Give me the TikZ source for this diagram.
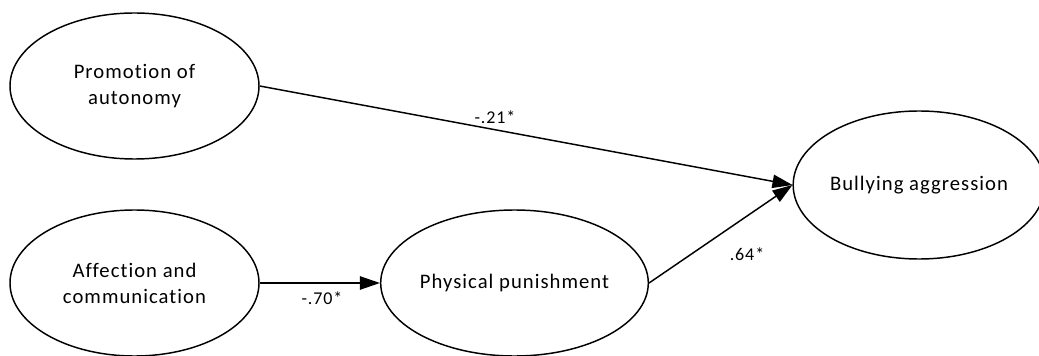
\documentclass[tikz,border=0pt]{standalone}
\usepackage{fontspec}
\setmainfont{Carlito}[LetterSpace=5,RawFeature={-liga;-clig;-dlig}]
\usetikzlibrary{shapes.geometric,arrows.meta}
\tikzset{
  latent/.style={ellipse, draw, line width=1.1pt, inner sep=0pt, align=center,
    minimum width=186.75pt, minimum height=109.5pt,
    font=\fontsize{15.5}{19.5}\selectfont},
  path/.style={line width=1.1pt, -{Triangle[length=15pt,width=10pt]}},
  coef/.style={font=\fontsize{13.5}{15}\selectfont, inner sep=0pt}
}
\begin{document}
\begin{tikzpicture}[x=0.75pt,y=-0.75pt]
\useasboundingbox (0,0) rectangle (1039,356);
\node[latent] (pa) at (134.5,86) {Promotion of\\autonomy};
\node[latent] (ac) at (134.5,283) {Affection and\\communication};
\node[latent] (pp) at (514.5,283) {Physical punishment};
\node[latent, minimum height=111pt] (ba) at (919,185) {Bullying aggression};
\draw[path] (pa.east) -- (ba.west);
\draw[path] (pp.east) -- (ba.west);
\draw[path] (ac.east) -- (pp.west);
\node[coef] (l1) at (495,117) {-.21*};
\node[coef] (l2) at (322,298) {-.70*};
\node[coef] (l3) at (747,254) {.64*};
\end{tikzpicture}
\end{document}
